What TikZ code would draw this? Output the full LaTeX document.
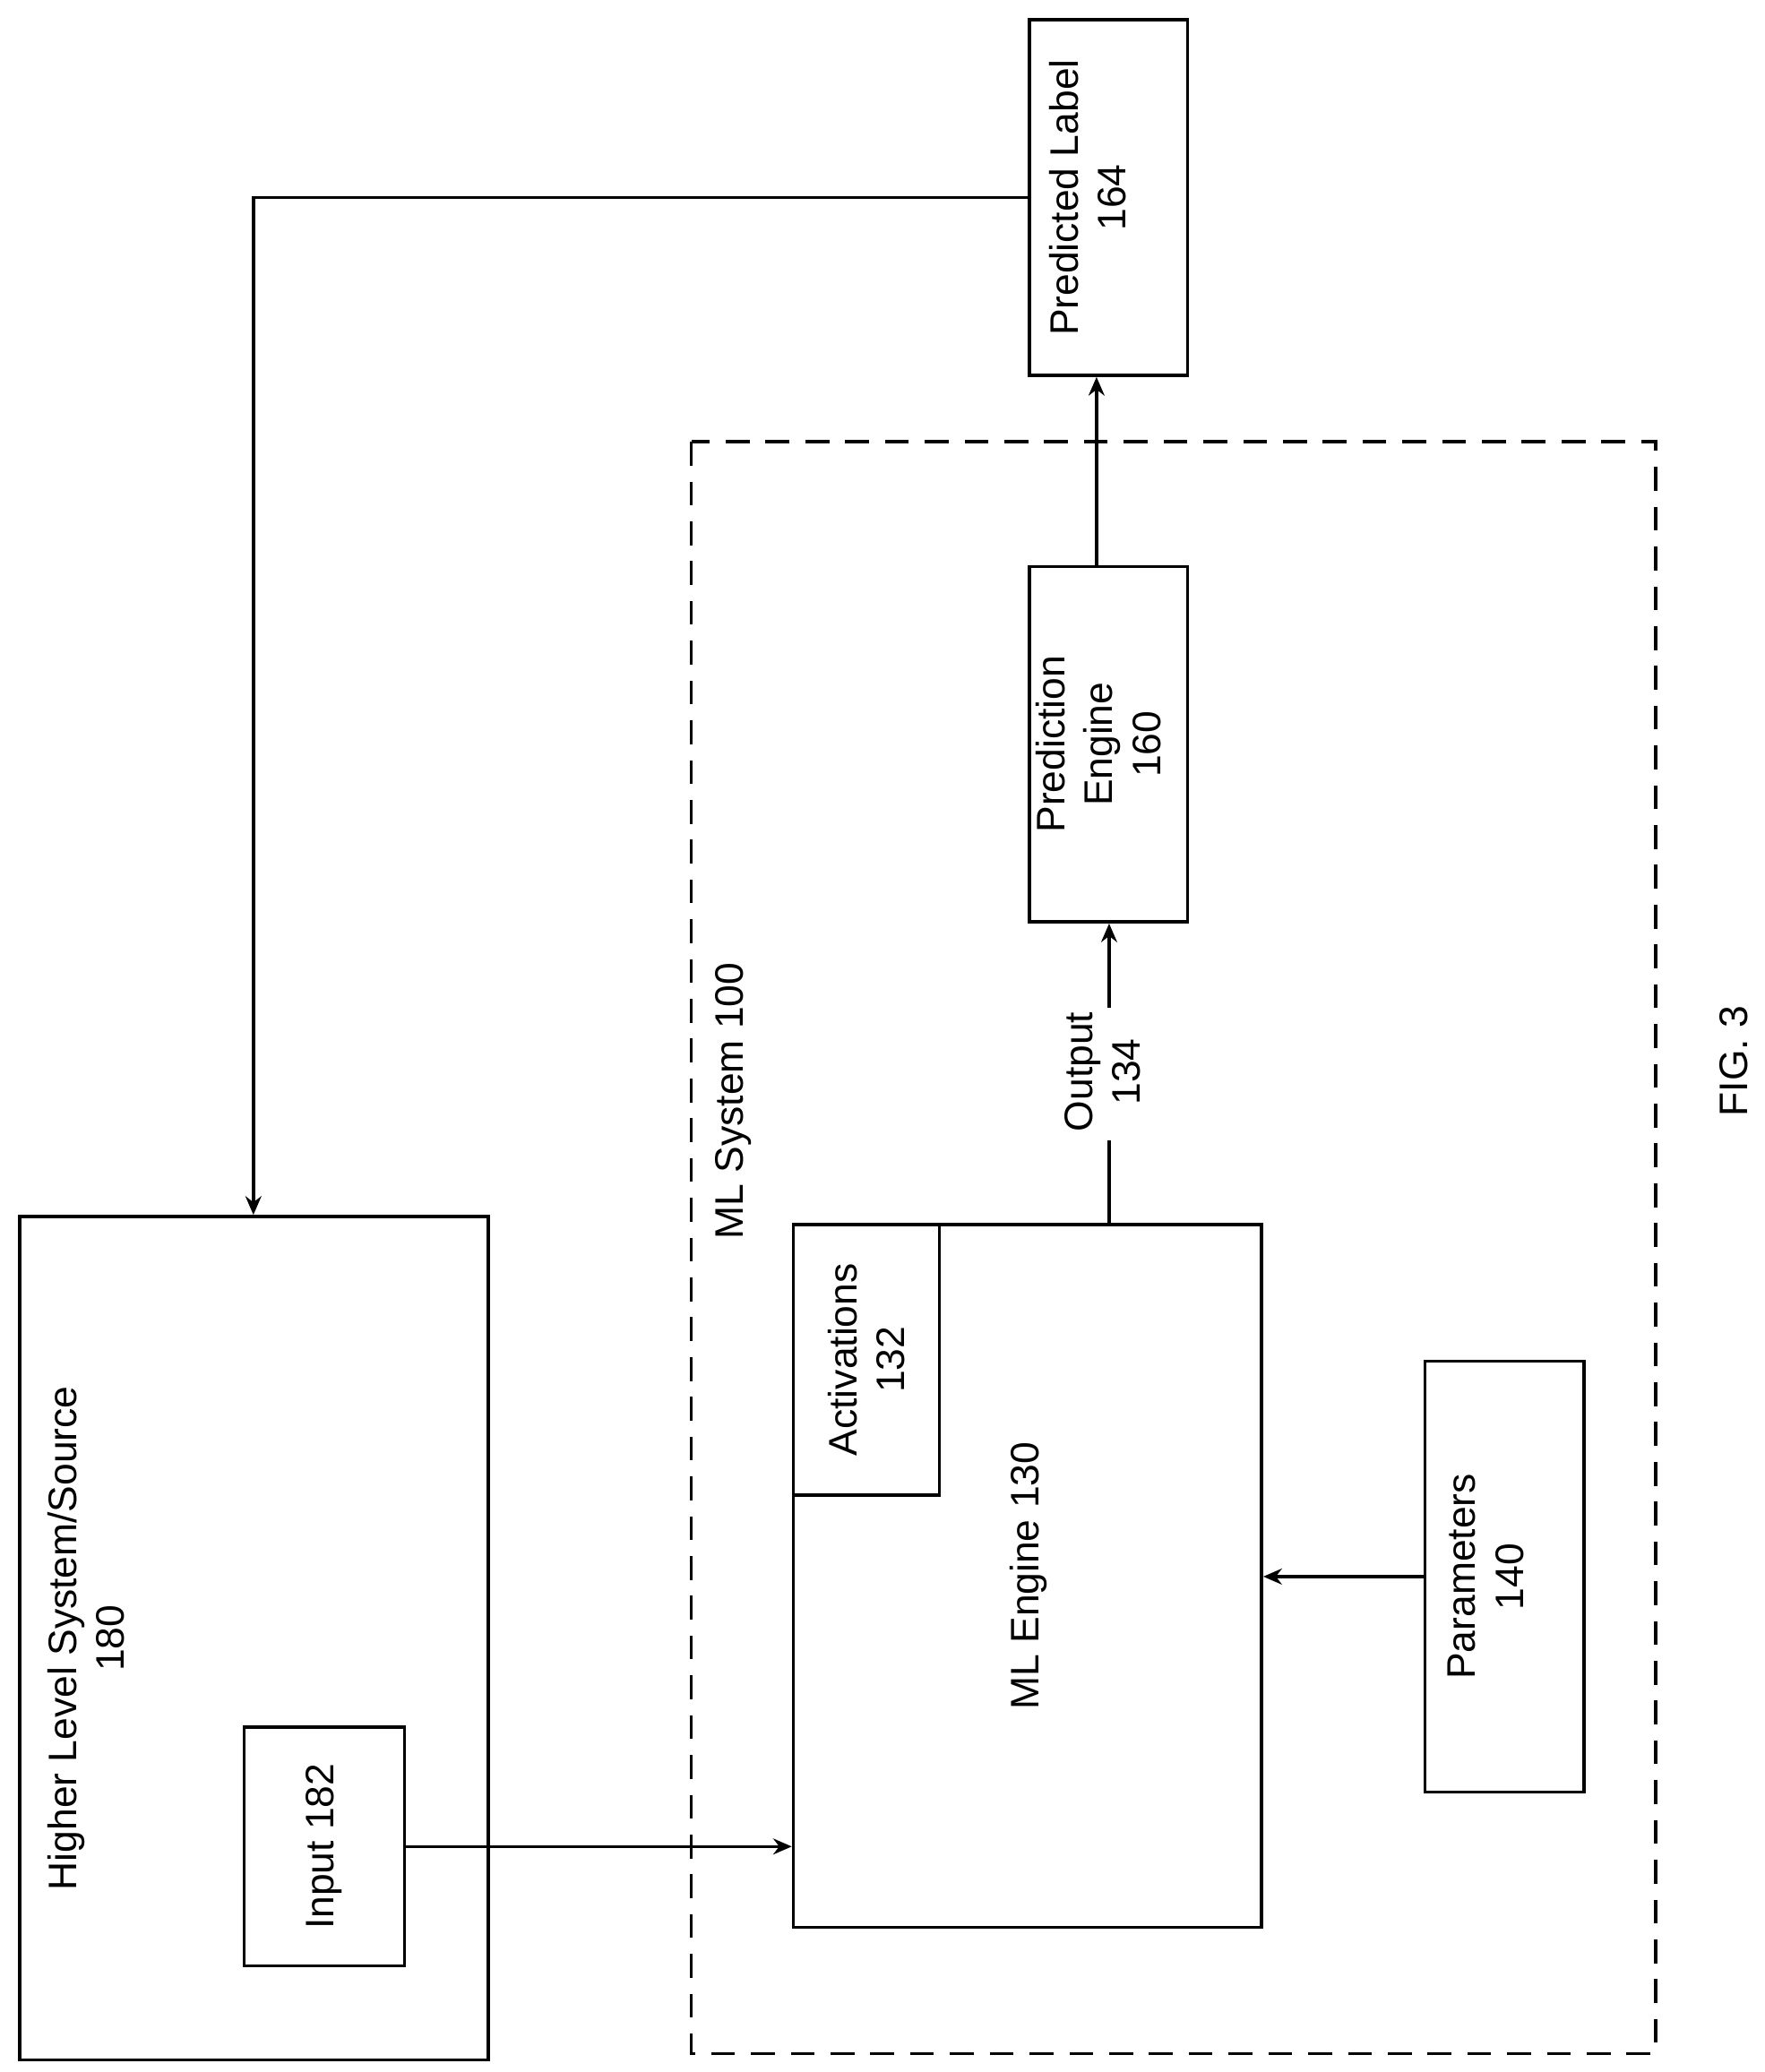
\documentclass[tikz,border=0pt]{standalone}
\usepackage{fontspec}
\setmainfont{Liberation Sans}
\usetikzlibrary{arrows.meta}
\begin{document}
\begin{tikzpicture}[x=0.5pt,y=0.5pt,yscale=-1,
  box/.style={draw,line width=1.2pt,inner sep=0pt},
  lbl/.style={rotate=90,align=center,font=\fontsize{15}{18}\selectfont},
  arr/.style={line width=1.2pt,-{Stealth[length=7pt,width=6pt]}}]
\useasboundingbox (0,0) rectangle (1330,1562);
% boxes
\node[box,minimum width=353pt/2*2*0.5,minimum height=318pt] (hls) at (191.5,1235) {};
\node[box,minimum width=60.5pt,minimum height=90pt] (inp) at (244.5,1392) {};
\draw[line width=1.2pt,dash pattern=on 9pt off 6pt] (521,333) rectangle (1248,1548);
\node[box,minimum width=176.5pt,minimum height=265pt] (mle) at (774.5,1188) {};
\node[box,minimum width=55pt,minimum height=102pt] (act) at (653,1025) {};
\node[box,minimum width=60pt,minimum height=162.5pt] (par) at (1134,1188.5) {};
\node[box,minimum width=59.5pt,minimum height=134pt] (pre) at (835.5,561) {};
\node[box,minimum width=59.5pt,minimum height=134pt] (lab) at (835.5,149) {};
% texts
\node[lbl] at (65,1235) {Higher Level System/Source\\180};
\node[lbl] at (244.5,1392) {Input 182};
\node[lbl] at (553,830) {ML System 100};
\node[lbl] at (775,1188) {ML Engine 130};
\node[lbl] at (653,1025) {Activations\\132};
\node[lbl] at (1120,1188.5) {Parameters\\140};
\node[lbl] at (828,561) {Prediction\\Engine\\160};
\node[lbl] at (820,149) {Predicted Label\\164};
\node[lbl] at (1307,800) {FIG. 3};
% connectors
\coordinate (outb) at (836,923);
\node[lbl,fill=white,inner sep=2pt] (out) at (831,808) {Output\\134};
\draw[line width=1.2pt] (outb) -- (836,860);
\draw[arr] (836,760) -- (pre.south -| 836,0);
\draw[arr] (pre.north) ++(-9,0) coordinate (pn) -- (lab.south -| pn);
\draw[arr] (lab.west) -- (191,149) -- (hls.north -| 191,0);
\draw[arr] (inp.east) -- (mle.west |- inp.east);
\draw[arr] (par.west) -- (mle.east |- par.west);
\end{tikzpicture}
\end{document}
